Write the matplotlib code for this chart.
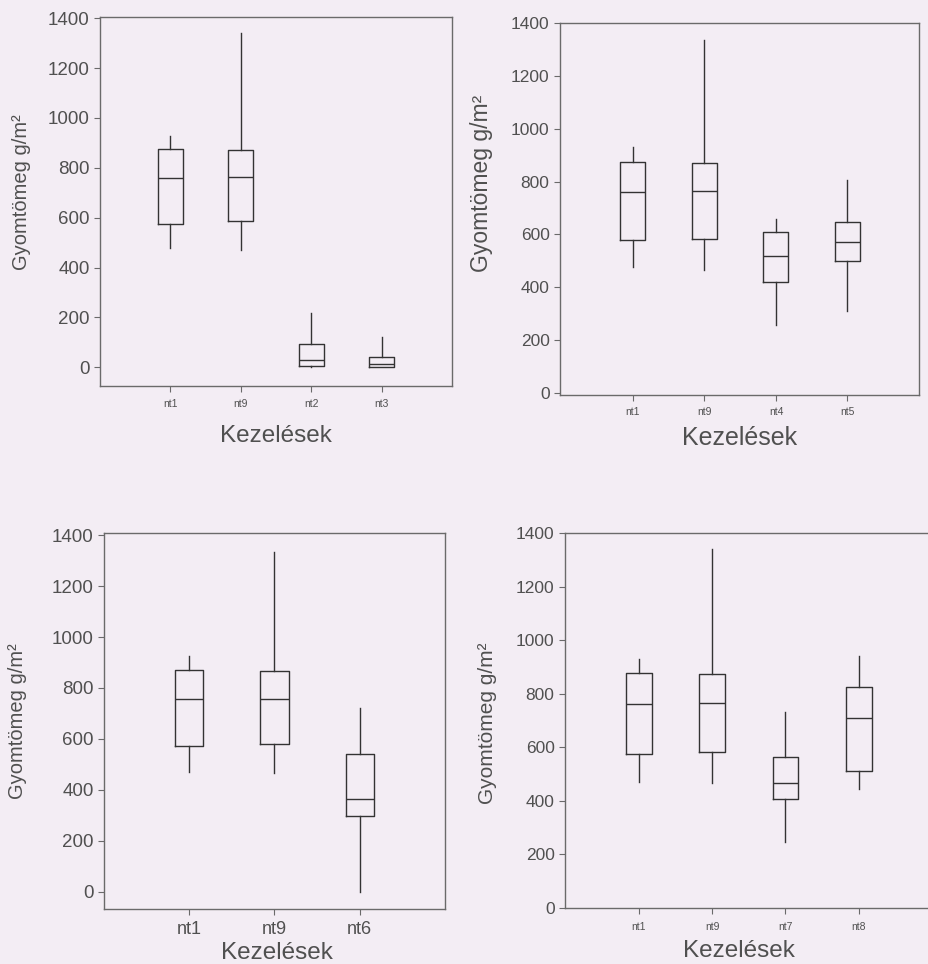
import matplotlib
matplotlib.use("Agg")
import matplotlib.pyplot as plt

plt.rcParams['font.family'] = ['Liberation Sans', 'DejaVu Sans']

W, H = 929, 964
BG = '#f3edf4'
TXT = '#505050'
SPINE = '#6a6a6a'
BOX = '#333333'

# ---- data ----
p1_labels = ['nt1', 'nt9', 'nt2', 'nt3']
p1_whislo = [477, 471, 0, 0]
p1_q1     = [575, 586, 7, 0]
p1_med    = [758, 763, 29, 12]
p1_q3     = [874, 872, 94, 40]
p1_whishi = [929, 1340, 219, 120]

p2_labels = ['nt1', 'nt9', 'nt4', 'nt5']
p2_whislo = [475, 466, 258, 311]
p2_q1     = [580, 583, 420, 498]
p2_med    = [762, 765, 517, 571]
p2_q3     = [876, 872, 609, 646]
p2_whishi = [932, 1336, 659, 806]

p3_labels = ['nt1', 'nt9', 'nt6']
p3_whislo = [472, 465, 0]
p3_q1     = [574, 579, 298]
p3_med    = [756, 757, 363]
p3_q3     = [871, 867, 540]
p3_whishi = [925, 1335, 720]

p4_labels = ['nt1', 'nt9', 'nt7', 'nt8']
p4_whislo = [472, 466, 245, 445]
p4_q1     = [575, 583, 406, 512]
p4_med    = [760, 764, 466, 708]
p4_q3     = [876, 872, 565, 824]
p4_whishi = [928, 1342, 733, 940]

yticks = [0, 200, 400, 600, 800, 1000, 1200, 1400]

fig = plt.figure(figsize=(W / 100, H / 100), dpi=100, facecolor=BG)


def px_axes(l, t, r, b):
    return fig.add_axes([l / W, 1 - b / H, (r - l) / W, (b - t) / H])


panels = [
    dict(box=(100, 17, 452, 386), ylim=(-75, 1405), xlim=(0, 5),
         labels=p1_labels, lo=p1_whislo, q1=p1_q1, med=p1_med, q3=p1_q3, hi=p1_whishi,
         width=0.36, ytfs=13.5, xtfs=7.5, xpad=5.5,
         ylab=(22, 192, 14.5), xlab=(276, 436, 17.5)),
    dict(box=(560, 23, 919, 395), ylim=(-8, 1401), xlim=(-0.02, 5),
         labels=p2_labels, lo=p2_whislo, q1=p2_q1, med=p2_med, q3=p2_q3, hi=p2_whishi,
         width=0.35, ytfs=12.5, xtfs=7.5, xpad=4.7,
         ylab=(482, 183, 16.5), xlab=(740, 438, 18)),
    dict(box=(104, 533, 445, 909), ylim=(-67, 1408), xlim=(0, 4),
         labels=p3_labels, lo=p3_whislo, q1=p3_q1, med=p3_med, q3=p3_q3, hi=p3_whishi,
         width=0.33, ytfs=13.5, xtfs=13, xpad=5.0,
         ylab=(18, 721, 14.5), xlab=(277, 953, 17.5)),
    dict(box=(565, 533, 932, 908), ylim=(0, 1400), xlim=(-0.01, 5),
         labels=p4_labels, lo=p4_whislo, q1=p4_q1, med=p4_med, q3=p4_q3, hi=p4_whishi,
         width=0.35, ytfs=12.5, xtfs=7.5, xpad=6.0,
         ylab=(488, 723, 15), xlab=(739, 951, 17.5)),
]

for p in panels:
    ax = px_axes(*p['box'])
    ax.set_facecolor(BG)
    stats = []
    for i, lab in enumerate(p['labels']):
        stats.append(dict(label=lab, whislo=p['lo'][i], q1=p['q1'][i], med=p['med'][i],
                          q3=p['q3'][i], whishi=p['hi'][i], fliers=[]))
    pos = list(range(1, len(stats) + 1))
    ax.bxp(stats, positions=pos, widths=p['width'], showcaps=False, showfliers=False,
           boxprops=dict(color=BOX, linewidth=1.0),
           whiskerprops=dict(color=BOX, linewidth=1.0),
           medianprops=dict(color=BOX, linewidth=1.0))
    ax.set_xlim(*p['xlim'])
    ax.set_ylim(*p['ylim'])
    ax.set_yticks(yticks)
    ax.set_yticklabels([str(v) for v in yticks])
    ax.set_xticks(pos)
    ax.set_xticklabels(p['labels'])
    for s in ax.spines.values():
        s.set_color(SPINE)
        s.set_linewidth(1.0)
    ax.tick_params(axis='y', direction='out', length=4, width=0.8, color=SPINE,
                   labelsize=p['ytfs'], labelcolor=TXT, pad=3.5)
    ax.tick_params(axis='x', direction='out', length=4, width=0.8, color=SPINE,
                   labelsize=p['xtfs'], labelcolor=TXT, pad=p['xpad'])
    x, y, fs = p['ylab']
    fig.text(x / W, 1 - y / H, 'Gyomtömeg g/m²', rotation=90, ha='center', va='center',
             fontsize=fs, color=TXT)
    x, y, fs = p['xlab']
    fig.text(x / W, 1 - y / H, 'Kezelések', ha='center', va='center', fontsize=fs, color=TXT)

fig.savefig('out.png', dpi=100, facecolor=BG)
